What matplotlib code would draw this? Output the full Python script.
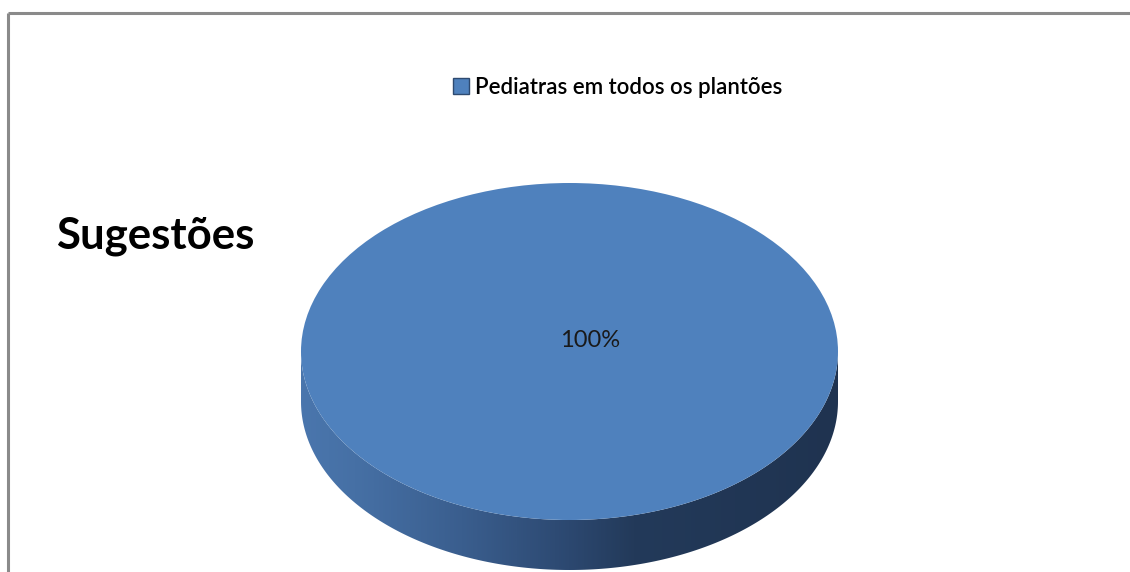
import numpy as np
import matplotlib
matplotlib.use("Agg")
import matplotlib.pyplot as plt
from matplotlib.patches import Polygon
from matplotlib.colors import LinearSegmentedColormap

# ---- data ----
categories = ["Pediatras em todos os plantões"]
values = [100]
title = "Sugestões"
pct_labels = ["100%"]

W, H = 1130, 572
fig = plt.figure(figsize=(W / 100, H / 100), dpi=100)
plt.rcParams['font.family'] = ['Lato', 'DejaVu Sans']

bg = fig.add_axes([0, 0, 1, 1])
bg.set_xlim(0, W)
bg.set_ylim(H, 0)
bg.axis('off')

# chart frame (top and left borders)
bg.plot([7.5, 7.5], [H, 12.5], color='#8a8a8a', lw=2.2, solid_capstyle='butt')
bg.plot([7.5, W], [12.5, 12.5], color='#8a8a8a', lw=2.2, solid_capstyle='butt')

# pie geometry (pixels)
cx, cy, rx, ry, depth = 569.5, 351.5, 268.5, 168.5, 50

# side wall of the 3D pie
t = np.linspace(0, np.pi, 300)
top_x = cx + rx * np.cos(t)
top_y = cy + ry * np.sin(t)
bot_x = cx + rx * np.cos(t[::-1])
bot_y = cy + depth + ry * np.sin(t[::-1])
poly = Polygon(np.column_stack([np.r_[top_x, bot_x], np.r_[top_y, bot_y]]),
               closed=True, facecolor='none', edgecolor='none')
bg.add_patch(poly)
cmap = LinearSegmentedColormap.from_list(
    'side', [(0.0, '#4a76ad'), (0.1, '#4670a5'), (0.3, '#3a5e8e'),
             (0.5, '#2c4870'), (0.62, '#233a5a'), (1.0, '#1f3350')])
grad = np.linspace(0, 1, 512).reshape(1, -1)
im = bg.imshow(grad, cmap=cmap, aspect='auto',
               extent=(cx - rx, cx + rx, cy + ry + depth + 2, cy - 2),
               interpolation='bilinear')
im.set_clip_path(poly)
bg.set_xlim(0, W)
bg.set_ylim(H, 0)

# top face of the pie
pax = fig.add_axes([(cx - rx) / W, 1 - (cy + ry) / H, 2 * rx / W, 2 * ry / H])
wedges, texts, autotexts = pax.pie(values, colors=['#4f81bd'], radius=1,
                                   startangle=-139, autopct='%1.0f%%',
                                   pctdistance=0.1, counterclock=True,
                                   textprops=dict(fontsize=17, color='#1a1a1a'))
pax.set_aspect('auto')
pax.set_xlim(-1, 1)
pax.set_ylim(-1, 1)
pax.axis('off')

# title
bg.text(56, 236, title, fontsize=31.5, fontweight='bold', color='black',
        ha='left', va='center')

# legend
leg = fig.legend(wedges, categories, loc='center left',
                 bbox_to_anchor=(453 / W, 1 - 87 / H), frameon=False,
                 prop=dict(size=16, weight='semibold'),
                 handlelength=0.7, handleheight=0.7,
                 handletextpad=0.3, borderaxespad=0, borderpad=0)
for h in leg.legend_handles:
    h.set_edgecolor('#2e4a70')
    h.set_linewidth(1.0)

fig.savefig('out.png', dpi=100)
